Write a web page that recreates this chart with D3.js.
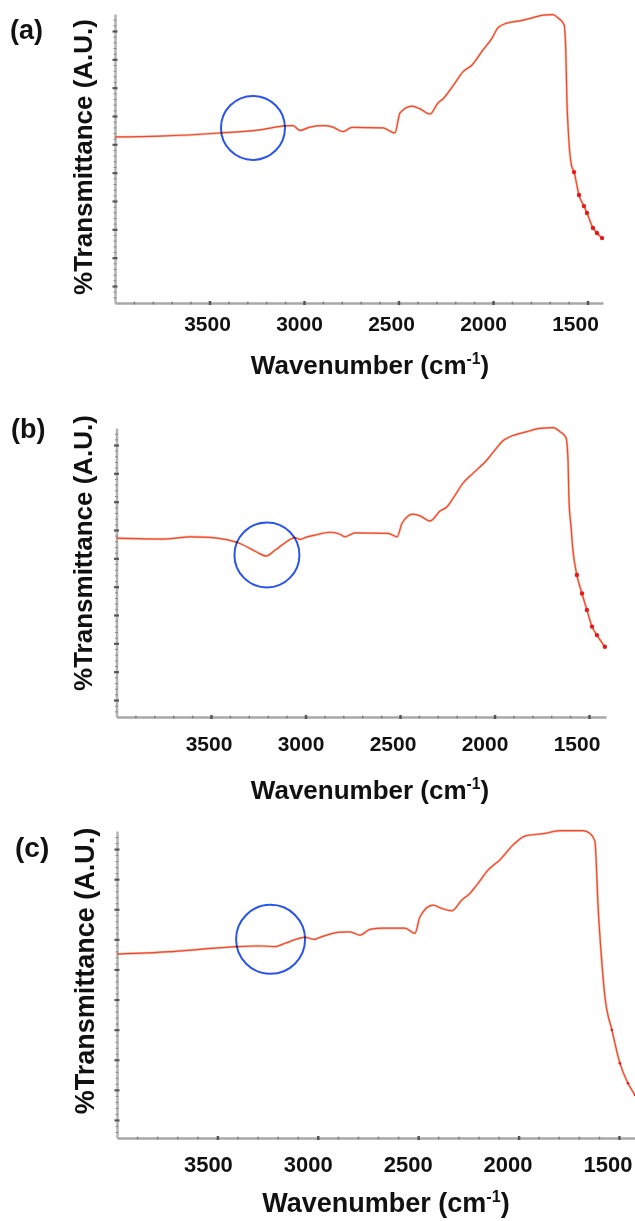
<!DOCTYPE html>
<html>
<head>
<meta charset="utf-8">
<script src="https://cdnjs.cloudflare.com/ajax/libs/d3/7.8.5/d3.min.js"></script>
<style>
  html, body { margin: 0; padding: 0; background: #ffffff; }
  svg { display: block; }
  text { font-family: "Liberation Sans", Arial, Helvetica, sans-serif; font-weight: bold; fill: #111; }
</style>
</head>
<body>
<svg id="chart" width="635" height="1221"></svg>
<script>
// ---------- data ----------
const panelTags = ["(a)", "(b)", "(c)"];
const xTickLabels = [3500, 3000, 2500, 2000, 1500];
const xStart = [4000, 4000, 4000];
const xEnd = [1418, 1410, 1420];
const yDomain = [-6, 96];

const wnA = [4000,3762,3444,3233,3101,3058,3021,2968,2899,2847,2794,2746,2582,2519,2492,2429,2386,2333,2291,2265,2212,2159,2111,2053,2005,1974,1926,1857,1788,1735,1683,1656,1624,1615,1609,1601,1595,1585,1571,1545,1519,1503,1471,1450,1423];
const tA  = [52.6,52.9,54.0,55.1,56.5,56.6,54.9,56.1,56.6,56.1,54.5,56.0,55.8,54.0,61.1,63.5,62.5,60.7,64.6,66.0,70.6,75.6,78.0,83.3,87.5,91.1,92.8,93.6,94.7,95.6,95.8,94.6,92.2,83.3,65.6,54.0,48.0,42.7,40.2,32.1,28.2,25.8,20.5,18.7,16.9];

const wnB = [4000,3743,3611,3505,3426,3357,3294,3252,3209,3161,3108,3056,3029,2992,2950,2870,2817,2791,2738,2563,2515,2489,2431,2394,2341,2288,2251,2219,2167,2114,2040,1998,1955,1918,1828,1759,1690,1653,1622,1611,1606,1595,1585,1564,1537,1511,1484,1458,1416];
const tB  = [57.1,56.8,57.6,57.4,56.7,55.5,53.5,52.0,50.8,52.9,55.5,57.3,56.7,57.6,58.2,59.2,58.5,57.6,59.0,58.8,57.6,62.4,65.6,65.0,63.2,66.7,68.2,71.2,76.5,80.0,84.7,88.2,91.5,92.9,94.7,95.9,96.1,94.7,92.7,84.7,70.6,61.2,52.9,44.1,37.6,31.8,25.9,22.9,18.8];

const wnC = [4000,3736,3587,3402,3288,3213,3163,3089,3064,3019,2979,2889,2840,2790,2740,2675,2566,2516,2491,2426,2391,2332,2282,2242,2202,2152,2093,2028,1968,1869,1794,1679,1644,1620,1603,1586,1570,1535,1495,1455,1420];
const tC  = [55.1,55.9,56.7,57.6,57.8,57.6,58.7,60.4,60.7,60.0,60.9,62.4,62.5,61.4,63.3,63.7,63.7,62.0,67.5,71.4,70.5,69.5,73.1,75.3,78.6,83.0,86.4,91.3,94.3,95.2,96.1,96.1,95.2,92.7,69.8,53.1,41.0,29.9,18.8,12.2,8.3];

// highlighted region (blue circle) centre, per panel
const circleWn = [3270, 3204, 3235];
const circleT  = [55.8, 51.2, 60.0];
// tail region drawn with markers (wavenumber below this)
const markerBelow = [1575, 1570, 1540];

const seriesWn = [wnA, wnB, wnC];
const seriesT  = [tA, tB, tC];

// ---------- layout / style ----------
const layout = [
  {left:115,   right:603, top:14,  bottom:303,  tagX:10, tagY:39,  tagSize:27,
   ylabX:92, ylabY:157, ylabSize:26, tickY:331, tickSize:21, titleX:370, titleY:374, titleSize:26,
   labShift:[-2,-12], r:32, dotR:2.2},
  {left:116.5, right:606, top:428, bottom:717,  tagX:11, tagY:438, tagSize:27,
   ylabX:92, ylabY:553, ylabSize:26, tickY:751, tickSize:21, titleX:370, titleY:799, titleSize:26,
   labShift:[-2,-12], r:32.5, dotR:2.2},
  {left:117,   right:635, top:831, bottom:1138, tagX:15, tagY:857, tagSize:28,
   ylabX:94, ylabY:971, ylabSize:27, tickY:1172, tickSize:22, titleX:386, titleY:1212, titleSize:27,
   labShift:[-9,-11], r:34.5, dotR:1.3}
];

const svg = d3.select("#chart");
svg.append("rect").attr("width", 635).attr("height", 1221).attr("fill", "#fff");

panelTags.forEach((tag, i) => {
  const L = layout[i];
  const g = svg.append("g");
  const x = d3.scaleLinear().domain([xStart[i], xEnd[i]]).range([L.left, L.right]);
  const y = d3.scaleLinear().domain(yDomain).range([L.bottom, L.top]);

  // ----- y axis (minor + major ticks, no labels) -----
  const yMinor = d3.range(-4, 96, 2);
  const gy = g.append("g").attr("transform", `translate(${L.left},0)`)
    .call(d3.axisLeft(y).tickValues(yMinor).tickSize(0).tickSizeOuter(0).tickFormat(""));
  gy.select(".domain").attr("stroke", "#b4b4b4").attr("stroke-width", 2.5);
  gy.selectAll(".tick line")
    .attr("x1", d => d % 10 === 0 ? -2.5 : -1.5)
    .attr("x2", d => d % 10 === 0 ? 2.5 : 1.5)
    .attr("stroke", d => d % 10 === 0 ? "#555" : "#8a8a8a")
    .attr("stroke-width", d => d % 10 === 0 ? 2.2 : 1);

  // ----- x axis -----
  const xMinor = d3.range(3900, xEnd[i], -100);
  const gx = g.append("g").attr("transform", `translate(0,${L.bottom})`)
    .call(d3.axisBottom(x).tickValues(xMinor).tickSize(0).tickSizeOuter(0).tickFormat(""));
  gx.select(".domain").attr("stroke", "#a8a8a8").attr("stroke-width", 2.5);
  gx.selectAll(".tick line")
    .attr("y1", d => d % 500 === 0 ? -2 : -1.3)
    .attr("y2", d => d % 500 === 0 ? 2 : 1.3)
    .attr("stroke", d => d % 500 === 0 ? "#555" : "#7a7a7a")
    .attr("stroke-width", d => d % 500 === 0 ? 2.5 : 1.5);

  // tick labels (slightly offset from the tick marks as in the original figure)
  const shift = d3.scaleLinear().domain([3500, 1500]).range(L.labShift);
  g.selectAll(".xlab").data(xTickLabels).enter().append("text")
    .attr("class", "xlab")
    .attr("x", d => x(d) + shift(d))
    .attr("y", L.tickY)
    .attr("text-anchor", "middle")
    .attr("font-size", L.tickSize)
    .text(d => d);

  // axis title
  const t = g.append("text")
    .attr("x", L.titleX).attr("y", L.titleY)
    .attr("text-anchor", "middle")
    .attr("font-size", L.titleSize);
  t.append("tspan").text("Wavenumber (cm");
  t.append("tspan").attr("dy", -L.titleSize * 0.38).attr("font-size", L.titleSize * 0.6).text("-1");
  t.append("tspan").attr("dy", L.titleSize * 0.38).text(")");

  // y title
  g.append("text")
    .attr("transform", `translate(${L.ylabX},${L.ylabY}) rotate(-90)`)
    .attr("text-anchor", "middle")
    .attr("font-size", L.ylabSize)
    .text("%Transmittance (A.U.)");

  // panel tag
  g.append("text")
    .attr("x", L.tagX).attr("y", L.tagY)
    .attr("font-size", L.tagSize)
    .text(tag);

  // ----- spectrum -----
  const pts = seriesWn[i].map((w, k) => [w, seriesT[i][k]]);
  const line = d3.line().x(d => x(d[0])).y(d => y(d[1])).curve(d3.curveMonotoneX);
  const clipId = "clip" + i;
  svg.append("clipPath").attr("id", clipId).append("rect")
    .attr("x", L.left).attr("y", 0).attr("width", 640 - L.left).attr("height", 1221);
  const gl = g.append("g").attr("clip-path", `url(#${clipId})`);
  gl.append("path").datum(pts)
    .attr("d", line)
    .attr("fill", "none")
    .attr("stroke", "#f26a48")
    .attr("stroke-width", 2.4)
    .attr("stroke-opacity", 0.45);
  gl.append("path").datum(pts)
    .attr("d", line)
    .attr("fill", "none")
    .attr("stroke", "#ee4a2a")
    .attr("stroke-width", 1.2);
  gl.selectAll(".dot").data(pts.filter(d => d[0] < markerBelow[i])).enter().append("circle")
    .attr("class", "dot")
    .attr("cx", d => x(d[0])).attr("cy", d => y(d[1]))
    .attr("r", L.dotR)
    .attr("fill", "#e81818");

  // ----- highlight circle -----
  g.append("circle")
    .attr("cx", x(circleWn[i])).attr("cy", y(circleT[i]))
    .attr("r", L.r)
    .attr("fill", "none")
    .attr("stroke", "#2a55e8")
    .attr("stroke-width", 2)
    .style("mix-blend-mode", "multiply");
});
</script>
</body>
</html>
